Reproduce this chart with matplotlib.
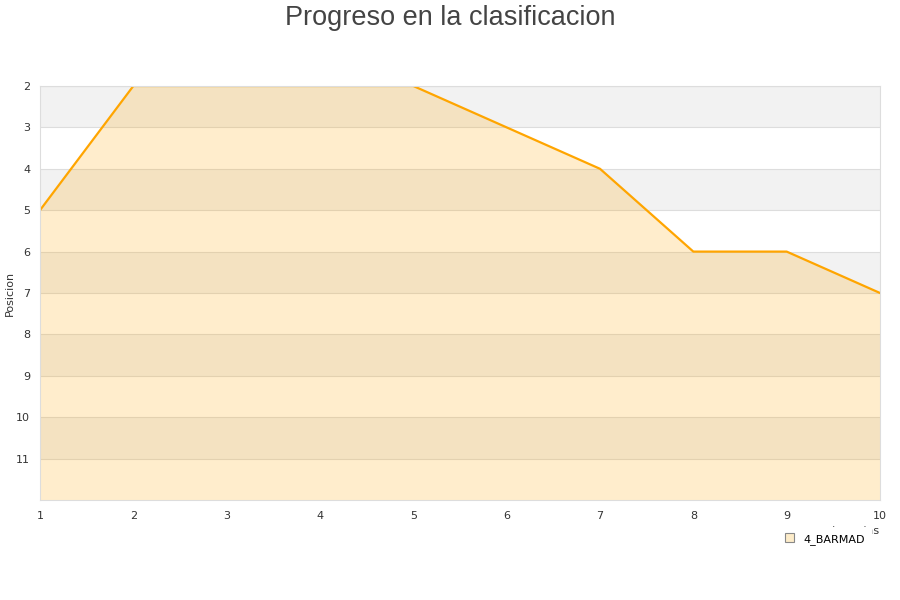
import matplotlib
matplotlib.use('Agg')
import matplotlib.pyplot as plt
from matplotlib.patches import Patch

# datos
jornadas = [1, 2, 3, 4, 5, 6, 7, 8, 9, 10]
posiciones = [5, 2, 2, 2, 2, 3, 4, 6, 6, 7]
equipo = '4_BARMAD'
y_ticks = [2, 3, 4, 5, 6, 7, 8, 9, 10, 11]

fig = plt.figure(figsize=(9, 6), dpi=100)
ax = fig.add_axes([40 / 900, 1 - 500 / 600, 840 / 900, 414 / 600])

# bandas alternas
for y in range(2, 12, 2):
    ax.axhspan(y, y + 1, color='#f2f2f2', zorder=0, lw=0)
for y in y_ticks:
    ax.axhline(y, color='#dddddd', lw=0.8, zorder=1)

# relleno y linea
ax.fill_between(jornadas, posiciones, 12, color='#ffa500', alpha=0.2, lw=0, zorder=2)
ax.plot(jornadas, posiciones, color='#ffa500', lw=1.6, zorder=3)

ax.set_xlim(1, 10)
ax.set_ylim(12, 2)
ax.set_xticks(jornadas)
ax.set_yticks(y_ticks)
ax.tick_params(length=0, labelsize=8, colors='#333333')
ax.tick_params(axis='y', pad=7)
ax.tick_params(axis='x', pad=8)
for s in ax.spines.values():
    s.set_color('#dddddd')
    s.set_zorder(4)

fig.text(10 / 900, 1 - 293 / 600, 'Posicion', rotation=90, ha='center', va='center',
         fontsize=8, color='#333333')

fig.text(0.5, 1 - 5 / 600, 'Progreso en la clasificacion', ha='center', va='top',
         fontsize=19.5, color='#444444', family='Liberation Sans')

# etiqueta eje x medio tapada por la leyenda
fig.text(880 / 900, 1 - 531 / 600, 'Jornadas', ha='right', va='center', fontsize=8,
         color='#333333', zorder=1)

handle = Patch(facecolor='#fdecc9', edgecolor='#888888', lw=0.8)
leg = fig.legend([handle], [equipo], loc='center', bbox_to_anchor=(825 / 900, 1 - 539 / 600),
                 frameon=True, fontsize=8, handlelength=0.8, handleheight=0.8,
                 borderpad=0.6, handletextpad=0.8, fancybox=False)
leg.get_frame().set_edgecolor('white')
leg.get_frame().set_facecolor('white')
leg.get_frame().set_alpha(1)
leg.set_zorder(10)

fig.savefig('out.png', dpi=100)
